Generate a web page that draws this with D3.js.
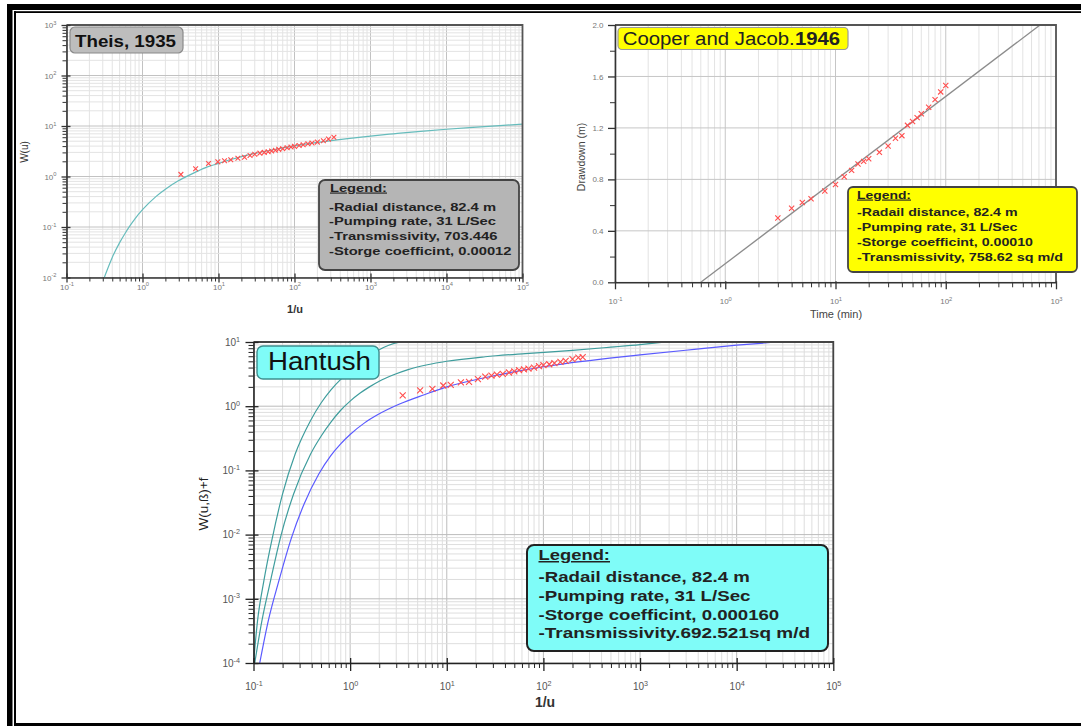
<!DOCTYPE html>
<html>
<head>
<meta charset="utf-8">
<script src="https://cdn.jsdelivr.net/npm/d3@7"></script>
<style>
  body { margin: 0; background: #fff; }
  svg { display: block; }
  text { font-family: "Liberation Sans", Arial, sans-serif; }
</style>
</head>
<body>
<svg id="chart" width="1081" height="726"></svg>
<script>
// ---- Theis, 1935 : W(u) against 1/u
const theisCurveX = [0.3, 0.35, 0.4, 0.5, 0.6, 0.7, 0.8, 1, 1.5, 2, 3, 4, 5, 7, 10, 15, 20, 30, 50, 70, 100, 200, 500, 1000, 2000, 5000, 1e4, 2e4, 5e4, 1e5];
const theisCurveW = [0.0083, 0.0153, 0.025, 0.049, 0.078, 0.111, 0.147, 0.22, 0.4, 0.56, 0.83, 1.04, 1.22, 1.53, 1.82, 2.2, 2.47, 2.86, 3.35, 3.68, 4.04, 4.73, 5.64, 6.33, 7.0, 7.94, 8.63, 9.3, 10.2, 10.9];
const theisObsX = [3.2, 5, 7.4, 9.8, 12, 14.5, 18, 22, 26, 30, 35, 40, 45, 50, 56, 62, 70, 80, 90, 100, 115, 130, 150, 170, 200, 240, 280, 330];
const theisObsW = [1.1, 1.42, 1.81, 1.95, 2.05, 2.15, 2.3, 2.4, 2.6, 2.75, 2.9, 3.0, 3.1, 3.2, 3.3, 3.45, 3.55, 3.7, 3.85, 3.95, 4.1, 4.25, 4.45, 4.6, 4.8, 5.1, 5.5, 6.0];
const theisLegend = ['-Radial distance, 82.4 m', '-Pumping rate, 31 L/Sec', '-Transmissivity, 703.446', '-Storge coefficint, 0.00012'];

// ---- Cooper and Jacob, 1946 : drawdown against time
const cjTime = [3, 4, 5, 6, 8, 10, 12, 14, 16, 18, 20, 25, 30, 35, 40, 45, 50, 55, 60, 70, 80, 90, 100];
const cjDraw = [0.50, 0.575, 0.62, 0.65, 0.71, 0.76, 0.82, 0.87, 0.92, 0.94, 0.96, 1.01, 1.06, 1.12, 1.14, 1.22, 1.25, 1.28, 1.31, 1.36, 1.42, 1.48, 1.53];
const cjLineT = [0.6, 716];
const cjLineS = [0, 2.0];
const cjYTicks = [0, 0.4, 0.8, 1.2, 1.6, 2.0];
const cjYMinor = [0.2, 0.6, 1.0, 1.4, 1.8];
const cjLegend = ['-Radail distance, 82.4 m', '-Pumping rate, 31 L/Sec', '-Storge coefficint, 0.00010', '-Transmissivity, 758.62 sq m/d'];

// ---- Hantush : W(u,B)+f against 1/u
const hanCurve1X = [0.1, 0.11, 0.128, 0.157, 0.2, 0.27, 0.39, 0.5, 0.63, 0.79, 1.0, 1.26, 1.58, 2.0, 2.51, 3.37];
const hanCurve1W = [1e-4, 4.5e-4, 1.9e-3, 9e-3, 0.043, 0.18, 0.6, 1.12, 1.78, 2.57, 3.47, 4.57, 6.03, 7.59, 8.91, 10];
const hanCurve2X = [0.103, 0.122, 0.15, 0.19, 0.26, 0.39, 0.5, 0.63, 0.79, 1, 1.26, 1.585, 2.0, 2.82, 3.98, 6.31, 10, 25, 65, 200, 500, 1000, 1780];
const hanCurve2W = [1e-4, 4.5e-4, 1.9e-3, 9e-3, 0.043, 0.18, 0.34, 0.56, 0.85, 1.2, 1.585, 2.0, 2.45, 3.09, 3.72, 4.42, 5.01, 5.89, 6.61, 7.41, 8.32, 9.12, 10];
const hanCurve3X = [0.116, 0.142, 0.183, 0.247, 0.334, 0.474, 0.631, 0.794, 1, 1.41, 1.94, 3.2, 5.85, 10, 24, 100, 486, 1000, 3630, 1e4, 26000];
const hanCurve3W = [1e-4, 4.5e-4, 1.9e-3, 8.9e-3, 0.03, 0.088, 0.17, 0.257, 0.363, 0.55, 0.74, 1.07, 1.51, 2.0, 2.75, 4.12, 5.62, 6.31, 7.67, 8.91, 10];
const hanObsX = [3.5, 5.3, 7.1, 9.2, 11, 14, 17, 21, 25, 29, 33, 38, 44, 50, 56, 63, 70, 80, 90, 100, 115, 130, 150, 170, 200, 230, 255];
const hanObsW = [1.47, 1.76, 1.86, 2.1, 2.15, 2.35, 2.4, 2.65, 2.9, 3.0, 3.1, 3.2, 3.35, 3.5, 3.65, 3.75, 3.85, 4.0, 4.2, 4.35, 4.5, 4.7, 4.9, 5.1, 5.4, 5.7, 5.8];
const hanLegend = ['-Radail distance, 82.4 m', '-Pumping rate, 31 L/Sec', '-Storge coefficint, 0.000160', '-Transmissivity.692.521sq m/d'];

const svg = d3.select('#chart');

// page frame
svg.append('rect').attr('x', 7).attr('y', 4).attr('width', 1074).attr('height', 6).attr('fill', '#000');
svg.append('rect').attr('x', 7).attr('y', 4).attr('width', 5.5).attr('height', 722).attr('fill', '#000');
svg.append('rect').attr('x', 14).attr('y', 11.2).attr('width', 1067).attr('height', 1.8).attr('fill', '#000');
svg.append('rect').attr('x', 14).attr('y', 11.2).attr('width', 2).attr('height', 715).attr('fill', '#000');
svg.append('rect').attr('x', 14).attr('y', 723).attr('width', 1067).attr('height', 3).attr('fill', '#000');

function logTicks(scale, minor) {
  const [a, b] = scale.domain();
  const e0 = Math.round(Math.log10(a)), e1 = Math.round(Math.log10(b));
  const out = [];
  for (let e = e0; e <= e1; e++) {
    if (!minor) out.push(Math.pow(10, e));
    else if (e < e1) for (let k = 2; k < 10; k++) out.push(k * Math.pow(10, e));
  }
  return out;
}

function powLabels(sel, size) {
  sel.selectAll('.tick text').each(function(d) {
    const t = d3.select(this).text('');
    t.append('tspan').text('10');
    t.append('tspan').attr('dy', -size * 0.42).attr('font-size', size * 0.72).text(Math.round(Math.log10(d)));
  });
}

function fitText(g, str, x, y, size, width, opt = {}) {
  return g.append('text')
    .attr('x', x).attr('y', y)
    .attr('font-size', size)
    .attr('font-weight', opt.bold ? 'bold' : null)
    .attr('fill', opt.fill || '#000')
    .attr('textLength', width)
    .attr('lengthAdjust', 'spacingAndGlyphs')
    .text(str);
}

function drawPanel(p) {
  const g = svg.append('g');
  const [x0, x1] = p.x.range();
  const [y0, y1] = p.y.range();
  svg.append('clipPath').attr('id', 'clip-' + p.name)
    .append('rect').attr('x', x0).attr('y', y1).attr('width', x1 - x0).attr('height', y0 - y1);

  // grid
  const grid = g.append('g');
  grid.selectAll('.vmin').data(logTicks(p.x, true)).join('line')
    .attr('x1', d => p.x(d)).attr('x2', d => p.x(d)).attr('y1', y0).attr('y2', y1)
    .attr('stroke', p.gridMinor);
  grid.selectAll('.vmaj').data(logTicks(p.x, false)).join('line')
    .attr('x1', d => p.x(d)).attr('x2', d => p.x(d)).attr('y1', y0).attr('y2', y1)
    .attr('stroke', p.gridMajor);
  if (p.yLog) {
    grid.selectAll('.hmin').data(logTicks(p.y, true)).join('line')
      .attr('y1', d => p.y(d)).attr('y2', d => p.y(d)).attr('x1', x0).attr('x2', x1)
      .attr('stroke', p.gridMinor);
  }
  grid.selectAll('.hmaj').data(p.yMajor).join('line')
    .attr('y1', d => p.y(d)).attr('y2', d => p.y(d)).attr('x1', x0).attr('x2', x1)
    .attr('stroke', p.gridMajor);

  // curves
  const curves = g.append('g').attr('clip-path', `url(#clip-${p.name})`);
  p.curves.forEach(c => {
    const pts = c.xs.map((v, i) => [v, c.ys[i]]);
    curves.append('path').datum(pts)
      .attr('d', d3.line().x(d => p.x(d[0])).y(d => p.y(d[1])).curve(d3.curveMonotoneX))
      .attr('fill', 'none').attr('stroke', c.color).attr('stroke-width', c.width || 1.2);
  });

  // observations
  const r = p.markR;
  curves.append('g').selectAll('path').data(p.obsX.map((v, i) => [v, p.obsY[i]])).join('path')
    .attr('transform', d => `translate(${p.x(d[0])},${p.y(d[1])})`)
    .attr('d', `M${-r},${-r}L${r},${r}M${-r},${r}L${r},${-r}`)
    .attr('stroke', '#ff4d4d').attr('stroke-width', 1.1).attr('fill', 'none');

  // frame top / right
  g.append('path').attr('d', `M${x0},${y1}H${x1}V${y0}`)
    .attr('fill', 'none').attr('stroke', p.frameColor).attr('stroke-width', 1.8);

  // x axis
  g.append('g').attr('transform', `translate(0,${y0})`).attr('color', p.axisColor)
    .call(d3.axisBottom(p.x).tickValues(logTicks(p.x, true)).tickFormat('').tickSize(p.minorLen).tickSizeOuter(0))
    .call(s => s.select('.domain').remove());
  const xa = g.append('g').attr('transform', `translate(0,${y0})`).attr('color', p.axisColor)
    .call(d3.axisBottom(p.x).tickValues(logTicks(p.x, false)).tickSize(p.majorLen).tickSizeOuter(0));
  xa.selectAll('.tick line').attr('y1', -p.majorIn).attr('stroke-width', 1.3);
  xa.select('.domain').attr('stroke-width', 1.6);
  xa.selectAll('.tick text').attr('y', p.xLabOff).attr('dy', 0).attr('fill', p.labColor)
    .attr('font-size', p.labSize).attr('font-family', null);
  powLabels(xa, p.labSize);

  // y axis
  const ya = g.append('g').attr('transform', `translate(${x0},0)`).attr('color', p.axisColor);
  if (p.yLog) {
    ya.append('g')
      .call(d3.axisLeft(p.y).tickValues(logTicks(p.y, true)).tickFormat('').tickSize(p.minorLen).tickSizeOuter(0))
      .call(s => s.select('.domain').remove());
  } else {
    ya.append('g')
      .call(d3.axisLeft(p.y).tickValues(p.yMinor).tickFormat('').tickSize(p.minorLen).tickSizeOuter(0))
      .call(s => s.select('.domain').remove());
  }
  const yaj = ya.append('g')
    .call(d3.axisLeft(p.y).tickValues(p.yMajor).tickSize(p.majorLen).tickSizeOuter(0)
      .tickFormat(p.yLog ? null : d3.format('.1f')));
  yaj.selectAll('.tick line').attr('x1', p.majorIn).attr('stroke-width', 1.3);
  yaj.select('.domain').attr('stroke-width', 1.6);
  yaj.selectAll('.tick text').attr('x', -p.yLabOff).attr('fill', p.labColor)
    .attr('font-size', p.labSize).attr('font-family', null);
  if (p.yLog) powLabels(yaj, p.labSize);

  return g;
}

// ---------- Theis panel
const tx = d3.scaleLog().domain([0.1, 1e5]).range([66.5, 522.5]);
const ty = d3.scaleLog().domain([0.01, 1000]).range([277.5, 25]);
const gT = drawPanel({
  name: 'theis', x: tx, y: ty, yLog: true, yMajor: logTicks(ty, false),
  gridMinor: '#e3e3e3', gridMajor: '#c2c2c2', frameColor: '#555', axisColor: '#333',
  minorLen: 4, majorLen: 5, majorIn: 4, xLabOff: 12, yLabOff: 10, labSize: 8, labColor: '#777',
  markR: 2.4,
  curves: [{ xs: theisCurveX, ys: theisCurveW, color: '#66bcbc' }],
  obsX: theisObsX, obsY: theisObsW
});
gT.append('text').attr('transform', 'translate(28,152) rotate(-90)').attr('text-anchor', 'middle')
  .attr('font-size', 10).attr('fill', '#333').text('W(u)');
gT.append('text').attr('x', 295).attr('y', 313).attr('text-anchor', 'middle')
  .attr('font-size', 11).attr('font-weight', 'bold').attr('fill', '#333').text('1/u');
gT.append('rect').attr('x', 70).attr('y', 27).attr('width', 113).attr('height', 26).attr('rx', 5)
  .attr('fill', '#bdbdbd').attr('stroke', '#8a8a8a').attr('stroke-width', 1.2);
fitText(gT, 'Theis, 1935', 75, 46.5, 16, 101, { bold: true, fill: '#111' });
gT.append('rect').attr('x', 319).attr('y', 180).attr('width', 200).attr('height', 90).attr('rx', 6)
  .attr('fill', '#b5b5b5').attr('stroke', '#444').attr('stroke-width', 1.8);
fitText(gT, 'Legend:', 330, 191.5, 11.5, 57, { bold: true, fill: '#222' }).attr('text-decoration', 'underline');
const theisW = [167, 167, 168.5, 182.5];
theisLegend.forEach((s, i) => fitText(gT, s, 329, 210.5 + i * 14.7, 11.5, theisW[i], { bold: true, fill: '#222' }));

// ---------- Cooper and Jacob panel
const cx = d3.scaleLog().domain([0.1, 1000]).range([615, 1056]);
const cy = d3.scaleLinear().domain([0, 2]).range([282.3, 25]);
const gC = drawPanel({
  name: 'cj', x: cx, y: cy, yLog: false, yMajor: cjYTicks, yMinor: cjYMinor,
  gridMinor: '#e3e3e3', gridMajor: '#c6c6c6', frameColor: '#555', axisColor: '#333',
  minorLen: 5, majorLen: 7, majorIn: 1, xLabOff: 22, yLabOff: 11.5, labSize: 8, labColor: '#777',
  markR: 2.6,
  curves: [{ xs: cjLineT, ys: cjLineS, color: '#8c8c8c', width: 1.3 }],
  obsX: cjTime, obsY: cjDraw
});
gC.append('text').attr('transform', 'translate(585,157) rotate(-90)').attr('text-anchor', 'middle')
  .attr('font-size', 10.5).attr('fill', '#444').text('Drawdown (m)');
gC.append('text').attr('x', 836).attr('y', 318).attr('text-anchor', 'middle')
  .attr('font-size', 11).attr('fill', '#444').text('Time (min)');
gC.append('rect').attr('x', 618).attr('y', 27.5).attr('width', 230).attr('height', 22).attr('rx', 4)
  .attr('fill', '#ffff00').attr('stroke', '#9a9a9a').attr('stroke-width', 1.2);
fitText(gC, 'Cooper and Jacob.', 622.7, 44.5, 18, 172, { fill: '#222' });
fitText(gC, '1946', 795, 44.5, 18, 45, { bold: true, fill: '#222' });
gC.append('rect').attr('x', 848).attr('y', 187).attr('width', 229).attr('height', 85).attr('rx', 5)
  .attr('fill', '#ffff00').attr('stroke', '#444').attr('stroke-width', 1.8);
fitText(gC, 'Legend:', 857, 198.5, 11.5, 54, { bold: true, fill: '#222' }).attr('text-decoration', 'underline');
const cjW = [160.5, 160.5, 176, 206];
cjLegend.forEach((s, i) => fitText(gC, s, 857, 216 + i * 15, 11.5, cjW[i], { bold: true, fill: '#222' }));

// ---------- Hantush panel
const hx = d3.scaleLog().domain([0.1, 1e5]).range([253.5, 833.3]);
const hy = d3.scaleLog().domain([1e-4, 10]).range([663, 342]);
const gH = drawPanel({
  name: 'hantush', x: hx, y: hy, yLog: true, yMajor: logTicks(hy, false),
  gridMinor: '#dedede', gridMajor: '#bcbcbc', frameColor: '#444', axisColor: '#222',
  minorLen: 5, majorLen: 8, majorIn: 5, xLabOff: 27, yLabOff: 13.5, labSize: 10, labColor: '#555',
  markR: 3,
  curves: [
    { xs: hanCurve1X, ys: hanCurve1W, color: '#3f9d9d' },
    { xs: hanCurve2X, ys: hanCurve2W, color: '#3f9d9d' },
    { xs: hanCurve3X, ys: hanCurve3W, color: '#5a5aff' }
  ],
  obsX: hanObsX, obsY: hanObsW
});
gH.append('text').attr('transform', 'translate(208,504) rotate(-90)').attr('text-anchor', 'middle')
  .attr('font-size', 13.5).attr('fill', '#222').text('W(u,ß)+f');
gH.append('text').attr('x', 545).attr('y', 707).attr('text-anchor', 'middle')
  .attr('font-size', 14).attr('font-weight', 'bold').attr('fill', '#333').text('1/u');
gH.append('rect').attr('x', 257).attr('y', 346).attr('width', 122).attr('height', 33).attr('rx', 6)
  .attr('fill', '#7ffcf8').attr('stroke', '#3e8f8f').attr('stroke-width', 1.4);
fitText(gH, 'Hantush', 268, 370, 25, 103, { fill: '#111' });
gH.append('rect').attr('x', 527).attr('y', 545).attr('width', 301).attr('height', 106).attr('rx', 7)
  .attr('fill', '#7ffcf8').attr('stroke', '#222').attr('stroke-width', 2);
fitText(gH, 'Legend:', 538.5, 560, 15, 71.5, { bold: true, fill: '#222' }).attr('text-decoration', 'underline');
const hanW = [211.3, 212, 240.7, 271.5];
hanLegend.forEach((s, i) => fitText(gH, s, 538.5, 581.7 + i * 18.9, 15, hanW[i], { bold: true, fill: '#222' }));
</script>
</body>
</html>
